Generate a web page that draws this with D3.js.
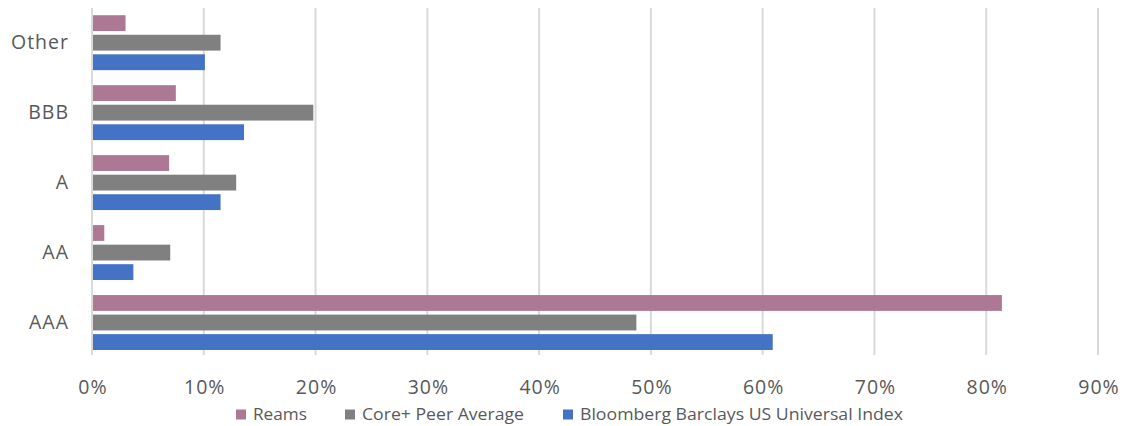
<!DOCTYPE html>
<html>
<head>
<meta charset="utf-8">
<script src="https://cdn.jsdelivr.net/npm/d3@7/dist/d3.min.js"></script>
<style>
  html, body { margin: 0; padding: 0; background: #fff; }
  svg { display: block; }
  text { font-family: "Open Sans", "Liberation Sans", sans-serif; fill: #595959; }
</style>
</head>
<body>
<svg id="chart" width="1127" height="426"></svg>
<script>
// Credit quality breakdown (share of portfolio, %)
const categories = ["Other", "BBB", "A", "AA", "AAA"];
const seriesNames = ["Reams", "Core+ Peer Average", "Bloomberg Barclays US Universal Index"];
const reams = [3.0, 7.5, 6.9, 1.1, 81.4];
const corePeer = [11.5, 19.8, 12.9, 7.0, 48.7];
const bloomberg = [10.1, 13.6, 11.5, 3.7, 60.9];
const xTicks = [0, 10, 20, 30, 40, 50, 60, 70, 80, 90];
const colors = ["#AD7893", "#808080", "#4472C4"];

const seriesValues = [reams, corePeer, bloomberg];

const svg = d3.select("#chart");

const x = d3.scaleLinear().domain([0, 90]).range([92, 1098]);
const y = d3.scaleBand().domain(categories).range([7.7, 357.5]).paddingInner(0.215).paddingOuter(0.1075);
const ySub = d3.scaleBand().domain(seriesNames).range([0, y.bandwidth()]).paddingInner(0.19);

// vertical gridlines
svg.append("g")
  .selectAll("line")
  .data(xTicks)
  .join("line")
  .attr("x1", d => x(d)).attr("x2", d => x(d))
  .attr("y1", 8).attr("y2", 355)
  .attr("stroke", "#D9D9D9")
  .attr("stroke-width", 2);

// bars
const rows = [];
categories.forEach((c, i) => {
  seriesNames.forEach((s, j) => rows.push({ cat: c, series: s, value: seriesValues[j][i], color: colors[j] }));
});

svg.append("g")
  .selectAll("rect")
  .data(rows)
  .join("rect")
  .attr("x", x(0) + 1)
  .attr("y", d => y(d.cat) + ySub(d.series))
  .attr("width", d => x(d.value) - x(0) - 1)
  .attr("height", ySub.bandwidth())
  .attr("fill", d => d.color);

// x axis tick labels
const xAxis = d3.axisBottom(x).tickValues(xTicks).tickFormat(d => d + "%").tickSize(0).tickPadding(0);
const gx = svg.append("g").attr("transform", "translate(0,380)").call(xAxis);
gx.select(".domain").remove();
gx.selectAll("text")
  .attr("font-size", 19.5)
  .attr("letter-spacing", 1)
  .attr("dx", 0.5)
  .attr("fill", "#595959")
  .attr("font-family", "\"Open Sans\", sans-serif");

// y axis category labels
const yAxis = d3.axisLeft(y).tickSize(0).tickPadding(0);
const gy = svg.append("g").attr("transform", "translate(69,0)").call(yAxis);
gy.select(".domain").remove();
gy.selectAll("text")
  .attr("font-size", 19.5)
  .attr("letter-spacing", 1)
  .attr("fill", "#595959")
  .attr("font-family", "\"Open Sans\", sans-serif");

// legend
const legendItems = [
  { sq: 236, tx: 253, w: 54 },
  { sq: 345, tx: 362, w: 162 },
  { sq: 563, tx: 580, w: 323 }
];
const legend = svg.append("g");
seriesNames.forEach((s, i) => {
  const it = legendItems[i];
  legend.append("rect").attr("x", it.sq).attr("y", 409.5).attr("width", 10).attr("height", 10).attr("fill", colors[i]);
  legend.append("text").attr("x", it.tx).attr("y", 420)
    .attr("font-size", 16.5)
    .attr("textLength", it.w)
    .attr("lengthAdjust", "spacingAndGlyphs")
    .text(s);
});
</script>
</body>
</html>
